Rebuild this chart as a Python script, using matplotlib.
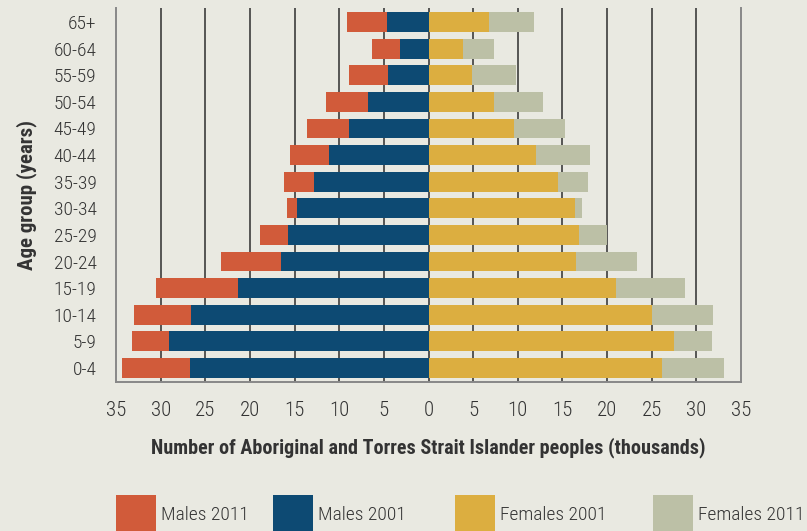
import matplotlib
matplotlib.use("Agg")
import matplotlib.pyplot as plt
from matplotlib.patches import Rectangle
from matplotlib import font_manager

names = {f.name for f in font_manager.fontManager.ttflist}
fam = [n for n in ["Roboto Condensed", "Liberation Sans Narrow", "Open Sans Condensed"] if n in names] + ["DejaVu Sans"]
plt.rcParams['font.family'] = fam

age_groups = ["0-4", "5-9", "10-14", "15-19", "20-24", "25-29", "30-34",
              "35-39", "40-44", "45-49", "50-54", "55-59", "60-64", "65+"]
males_2011 = [34.3, 33.2, 33.0, 30.5, 23.2, 18.9, 15.8, 16.2, 15.5, 13.6, 11.5, 8.9, 6.3, 9.1]
males_2001 = [26.7, 29.1, 26.6, 21.3, 16.5, 15.7, 14.7, 12.8, 11.1, 8.9, 6.8, 4.5, 3.2, 4.7]
females_2001 = [26.2, 27.5, 25.0, 21.0, 16.5, 16.9, 16.4, 14.5, 12.0, 9.6, 7.3, 4.9, 3.9, 6.8]
females_2011 = [33.1, 31.8, 31.9, 28.7, 23.4, 20.0, 17.2, 17.9, 18.1, 15.3, 12.8, 9.8, 7.3, 11.8]
xticks = [-35, -30, -25, -20, -15, -10, -5, 0, 5, 10, 15, 20, 25, 30, 35]
xticklabels = [str(abs(v)) for v in xticks]
series_names = ["Males 2011", "Males 2001", "Females 2001", "Females 2011"]

c_m11 = "#d15b3a"
c_m01 = "#0d4a73"
c_f01 = "#dcae40"
c_f11 = "#bcc0a6"
bg = "#e9e9e1"
txt = "#333333"

fig = plt.figure(figsize=(8.07, 5.31), dpi=100, facecolor=bg)
ax = fig.add_axes([116/807, 1-382/531, (741-116)/807, (382-8)/531], facecolor=bg)

y = list(range(len(age_groups)))
h = 0.75
ax.barh(y, [-v for v in males_2011], height=h, color=c_m11, zorder=2)
ax.barh(y, [-v for v in males_2001], height=h, color=c_m01, zorder=3)
ax.barh(y, females_2011, height=h, color=c_f11, zorder=2)
ax.barh(y, females_2001, height=h, color=c_f01, zorder=3)

ax.set_xlim(-35, 35)
ax.set_ylim(-0.53, 13.53)
ax.set_xticks(xticks)
ax.set_xticklabels(xticklabels, fontsize=15, color=txt, fontweight="light")
ax.set_yticks(y)
ax.set_yticklabels(age_groups, fontsize=14, color=txt, fontweight="light")
ax.tick_params(axis='both', length=0)
ax.tick_params(axis='x', pad=14)
ax.tick_params(axis='y', pad=14)
for xv in xticks[1:-1]:
    ax.axvline(xv, color="#2e2e2e", lw=1.1, zorder=1)
ax.spines["top"].set_visible(False)
for s in ["left", "right", "bottom"]:
    ax.spines[s].set_color("#888888")
    ax.spines[s].set_linewidth(1.4)

ax.set_xlabel("Number of Aboriginal and Torres Strait Islander peoples (thousands)",
              fontsize=14.5, fontweight="bold", color=txt, labelpad=12)
ax.set_ylabel("Age group (years)", fontsize=15, fontweight="bold", color=txt, labelpad=12)

# legend
leg_x = [116, 273, 455, 653]
cols = [c_m11, c_m01, c_f01, c_f11]
for lx, c, n in zip(leg_x, cols, series_names):
    fig.patches.append(Rectangle((lx/807, 0), 40/807, 36/531, transform=fig.transFigure,
                                 facecolor=c, edgecolor="none"))
    fig.text((lx+45)/807, 1-515/531, n, fontsize=14, color=txt, va="center", ha="left",
             fontweight="light")

fig.savefig("out.png", dpi=100, facecolor=bg)
